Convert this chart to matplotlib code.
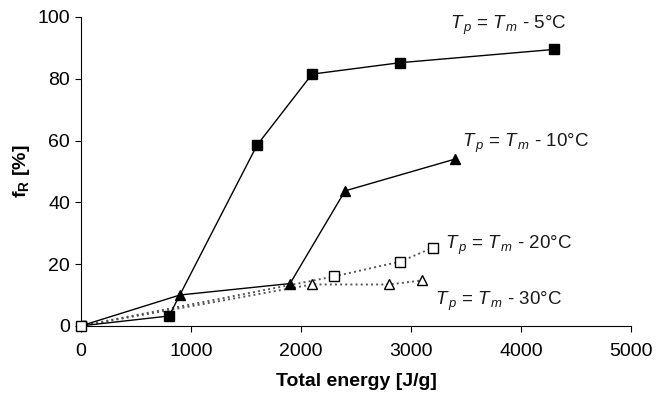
import matplotlib
matplotlib.use("Agg")
import matplotlib.pyplot as plt

plt.rcParams['font.family'] = ['Liberation Sans', 'DejaVu Sans']
plt.rcParams['mathtext.fontset'] = 'custom'
plt.rcParams['mathtext.rm'] = 'Liberation Sans'
plt.rcParams['mathtext.it'] = 'Liberation Sans:italic'
plt.rcParams['mathtext.bf'] = 'Liberation Sans:bold'

# data
x_5 = [0, 800, 1600, 2100, 2900, 4300]
y_5 = [0, 3.2, 58.5, 81.5, 85.2, 89.5]

x_10 = [0, 900, 1900, 2400, 3400]
y_10 = [0, 10, 13.7, 43.7, 54]

x_20 = [0, 2300, 2900, 3200]
y_20 = [0, 16, 20.8, 25.3]

x_30 = [0, 2100, 2800, 3100]
y_30 = [0, 13.4, 13.4, 14.7]

labels = ['- 5°C', '- 10°C', '- 20°C', '- 30°C']
label_pos = [(3355, 96.1), (3464, 57.9), (3309, 24.9), (3218, 6.8)]

fig = plt.figure(figsize=(6.56, 3.95), dpi=100)
ax = fig.add_axes([0.1235, 0.175, 0.8385, 0.782])

ax.plot(x_20, y_20, color='#555555', ls=':', lw=1.4, marker='s', ms=7,
        mfc='white', mec='black', mew=1.0, zorder=2)
ax.plot(x_30, y_30, color='#555555', ls=':', lw=1.4, marker='^', ms=7,
        mfc='white', mec='black', mew=1.0, zorder=2)
ax.plot(x_10, y_10, color='black', lw=1.0, marker='^', ms=7.5, zorder=3)
ax.plot(x_5, y_5, color='black', lw=1.0, marker='s', ms=7, zorder=3)
# open square at origin on top
ax.plot(x_20[:1], y_20[:1], ls='none', marker='s', ms=7, mfc='white',
        mec='black', mew=1.0, zorder=5, clip_on=False)

for lab, (lx, ly) in zip(labels, label_pos):
    ax.text(lx, ly, r'$T_{\,\it p}$ = $T_{\,\it m}$ ' + lab, fontsize=13.5,
            va='baseline', ha='left', color='#1a1a1a')

ax.set_xlim(0, 5000)
ax.set_ylim(0, 100)
ax.set_xticks([0, 1000, 2000, 3000, 4000, 5000])
ax.set_yticks([0, 20, 40, 60, 80, 100])
ax.spines['top'].set_visible(False)
ax.spines['right'].set_visible(False)
ax.tick_params(labelsize=14, length=4, direction='out')
ax.tick_params(axis='x', pad=8)
ax.tick_params(axis='y', pad=4)
ax.set_xlabel('Total energy [J/g]', fontsize=14, fontweight='bold', labelpad=10)
ax.set_ylabel(r'$\mathbf{f_R}$ [%]', fontsize=14, fontweight='bold', labelpad=4)

fig.savefig('out.png', dpi=100)
